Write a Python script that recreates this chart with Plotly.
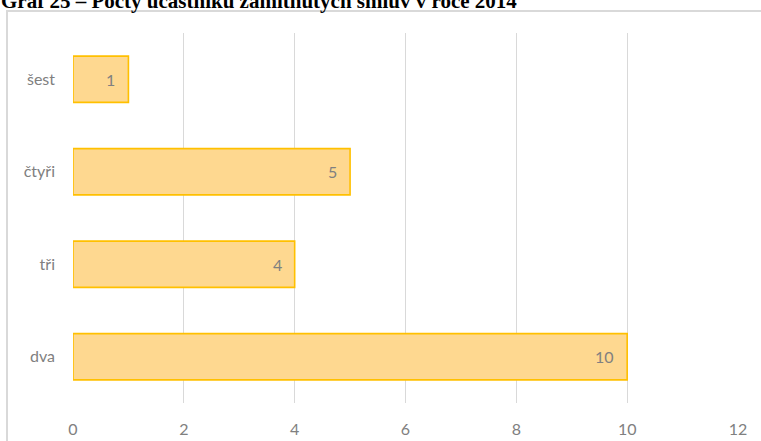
import plotly.graph_objects as go

# Number of participants in rejected contracts, 2014
categories = ["dva", "tři", "čtyři", "šest"]
counts = [10, 4, 5, 1]
x_ticks = [0, 2, 4, 6, 8, 10, 12]
title_text = "Graf 25 – Počty účastníků zamítnutých smluv v roce 2014"

W, H = 761, 441
M_L, M_R, M_T, M_B = 73, 23, 33, 38
PW, PH = W - M_L - M_R, H - M_T - M_B


def px_x(px):
    return (px - M_L) / PW


def px_y(py):
    return (H - M_B - py) / PH


label_font = dict(family="Lato, 'Open Sans', sans-serif", size=16, color="#808080")

fig = go.Figure(
    go.Bar(
        y=categories,
        x=counts,
        orientation="h",
        marker=dict(color="#FED890", line=dict(color="#FFC000", width=1.6)),
        width=0.5,
        hoverinfo="skip",
    )
)

# value labels sit just inside the bar end
for cat, val in zip(categories, counts):
    fig.add_annotation(
        x=val, y=cat, text=str(val), showarrow=False,
        xanchor="right", xshift=-11, font=label_font,
    )

# chart frame and title
fig.add_shape(
    type="rect", xref="paper", yref="paper",
    x0=px_x(7), x1=px_x(W + 10), y0=px_y(H + 10), y1=px_y(11),
    line=dict(color="#D9D9D9", width=2), fillcolor="rgba(0,0,0,0)", layer="below",
)
fig.add_annotation(
    xref="paper", yref="paper", x=px_x(-1), y=px_y(15),
    xanchor="left", yanchor="bottom", showarrow=False,
    text="<b>" + title_text + "</b>",
    font=dict(family="'Liberation Serif', 'Times New Roman', serif", size=21, color="#000000"),
)

fig.update_layout(
    width=W, height=H,
    margin=dict(l=M_L, r=M_R, t=M_T, b=M_B, pad=0, autoexpand=False),
    paper_bgcolor="white", plot_bgcolor="white",
    showlegend=False,
    xaxis=dict(
        range=[0, 12], tickvals=x_ticks, showgrid=True, gridcolor="#D9D9D9",
        gridwidth=1, zeroline=False, showline=False, ticks="",
        tickfont=label_font, ticklabelstandoff=15, automargin=False,
    ),
    yaxis=dict(
        categoryorder="array", categoryarray=categories, range=[-0.5, 3.5],
        showgrid=False, zeroline=False, showline=False, ticks="",
        tickfont=label_font, ticklabelstandoff=17, automargin=False,
    ),
)

fig.write_html("out.html")
